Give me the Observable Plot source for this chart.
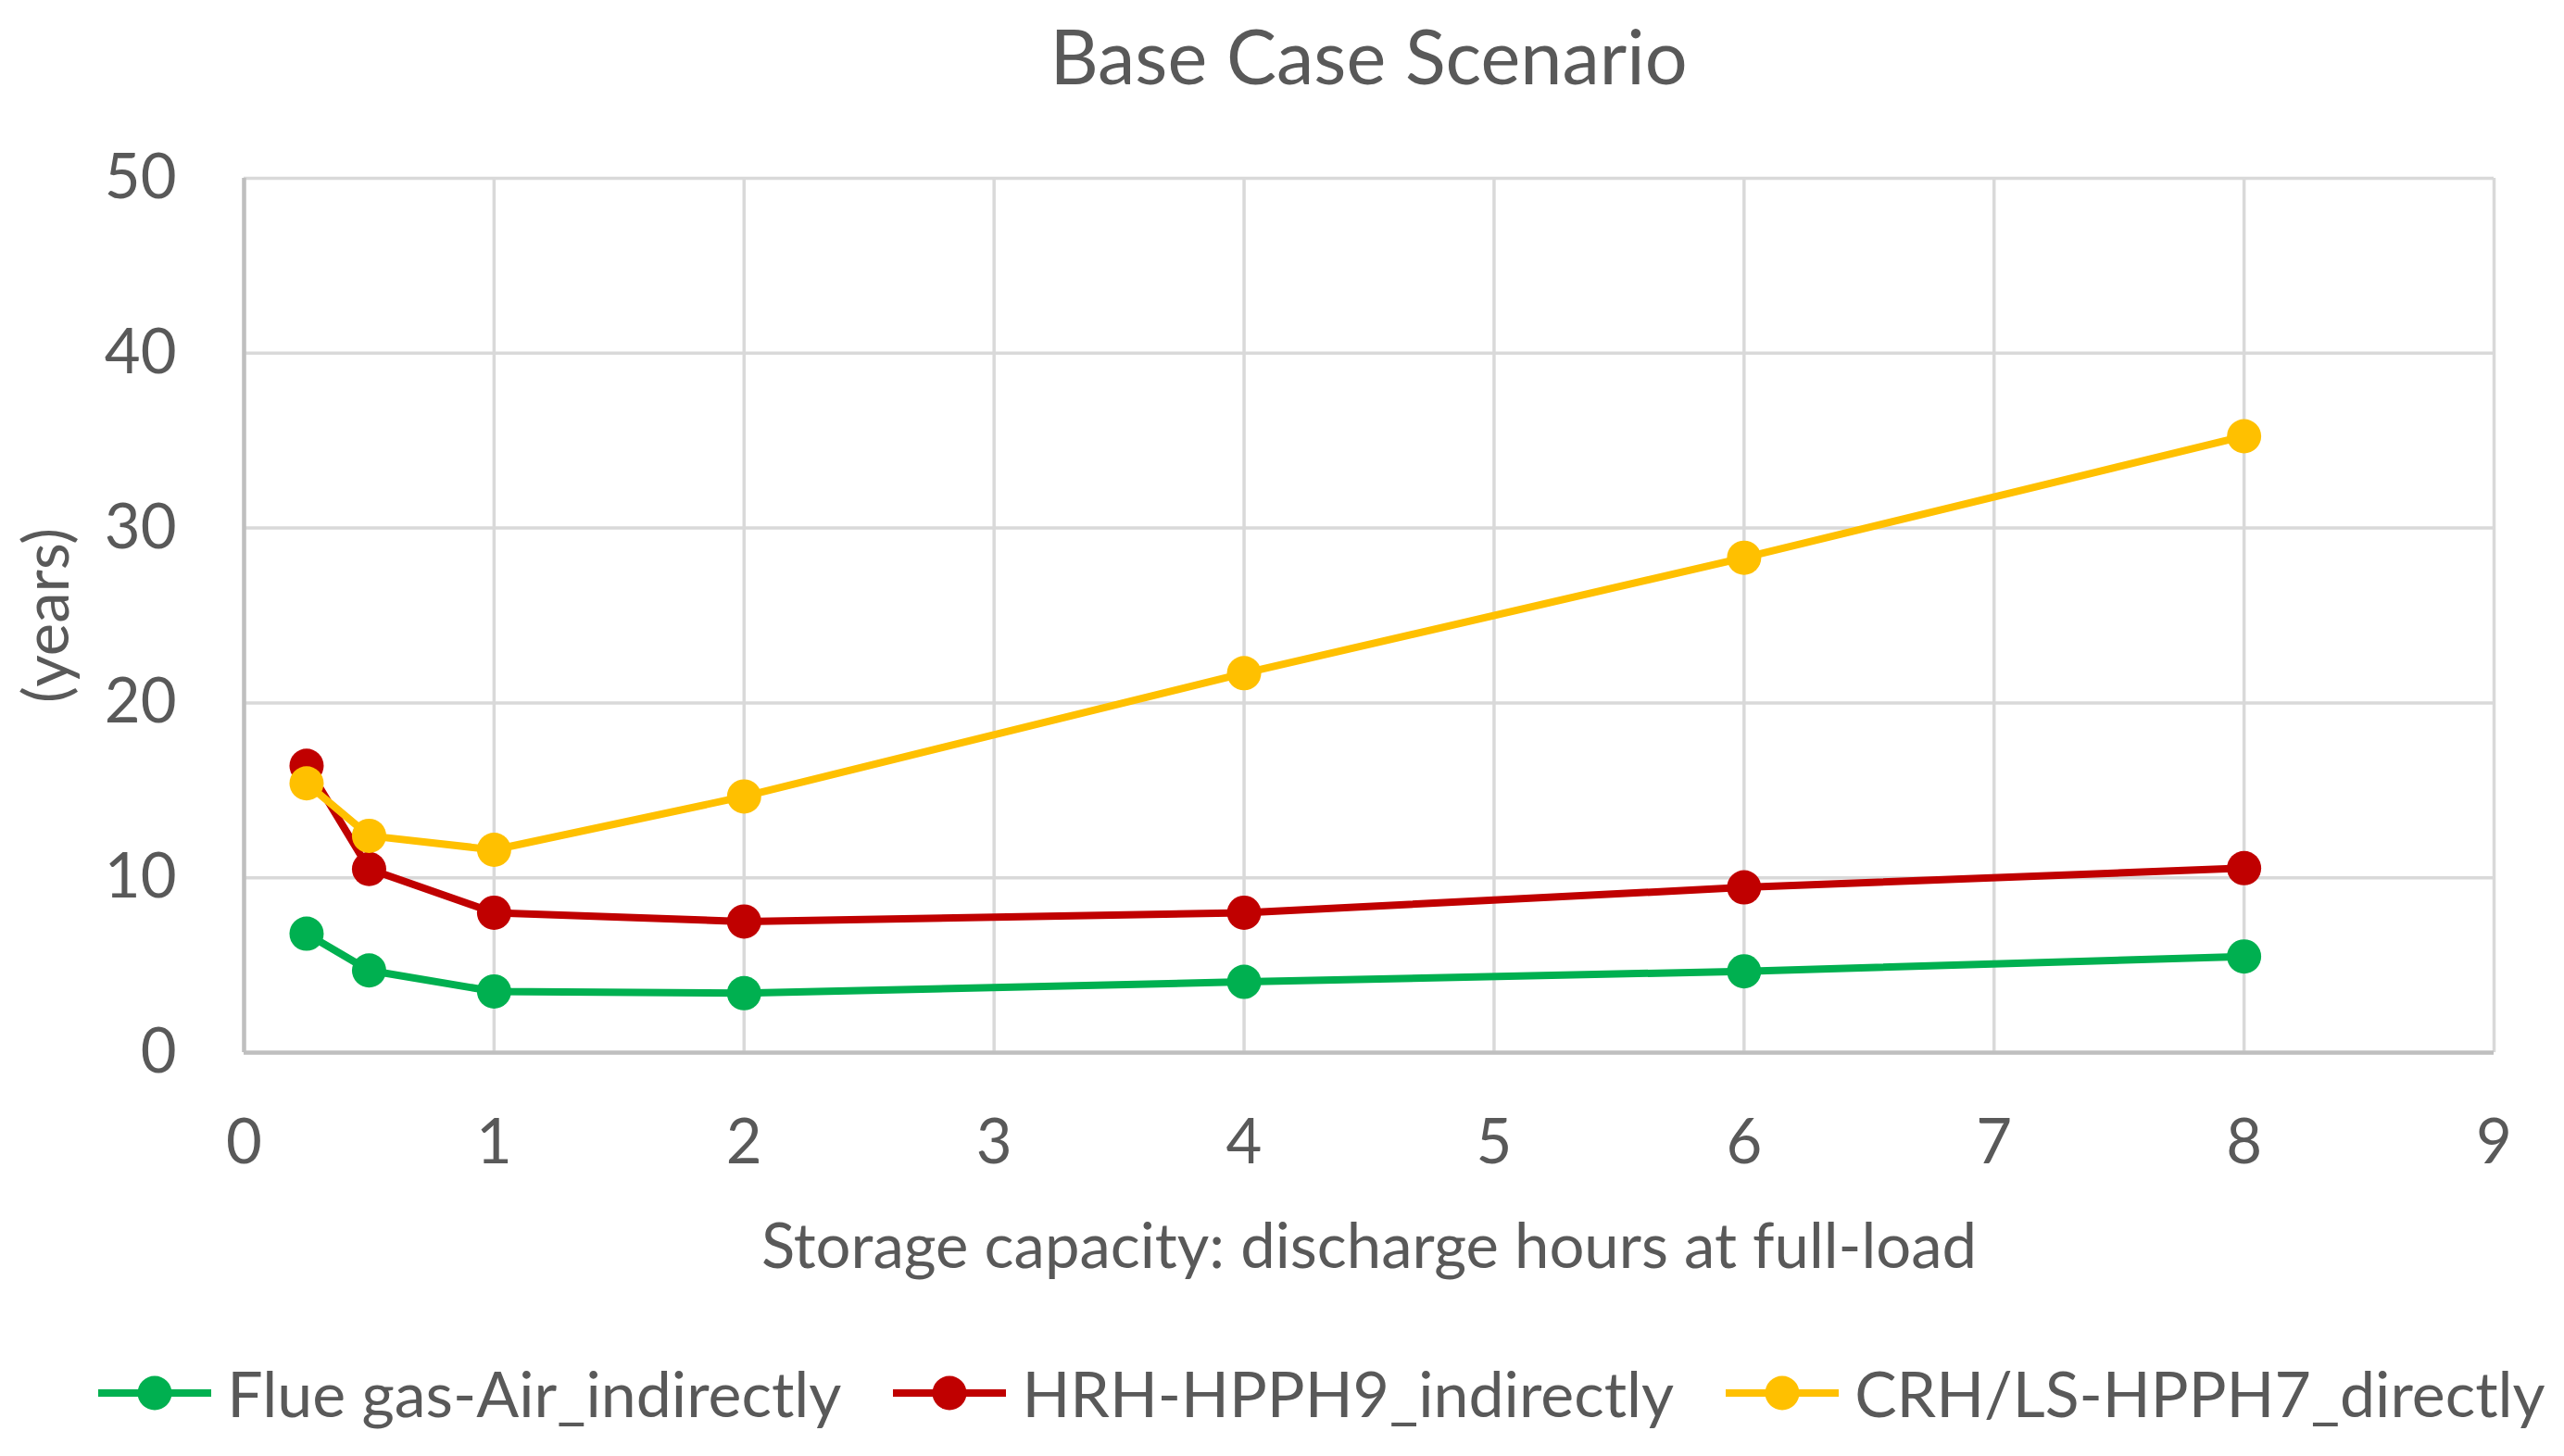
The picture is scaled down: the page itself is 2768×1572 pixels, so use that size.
<!DOCTYPE html>
<html>
<head>
<meta charset="utf-8">
<script src="https://cdn.jsdelivr.net/npm/d3@7"></script>
<script src="https://cdn.jsdelivr.net/npm/@observablehq/plot@0.6"></script>
<style>
html, body { margin: 0; padding: 0; background: #fff; overflow: hidden; }
body { width: 2768px; height: 1572px; font-family: Lato, "Noto Sans", sans-serif; color: #595959; }
#title { height: 150px; position: relative; }
#title span { position: absolute; left: 263px; width: 2429px; text-align: center; top: 20px; font-size: 81px; line-height: 80px; white-space: nowrap; }
#chart svg { display: block; }
#legend { box-sizing: border-box; width: 2768px; height: 152px; padding-top: 16px; padding-left: 86px; display: flex; align-items: center; justify-content: center; }
.item { display: flex; align-items: center; margin: 0 28px; flex-shrink: 0; white-space: nowrap; }
.item svg { display: block; margin-right: 17px; flex-shrink: 0; }
.item span { font-size: 68px; line-height: 68px; white-space: nowrap; }
</style>
</head>
<body>
<div id="title"><span>Base Case Scenario</span></div>
<div id="chart"></div>
<div id="legend"></div>
<script>
const hours = [0.25, 0.5, 1, 2, 4, 6, 8];
const flueGas = [6.8, 4.7, 3.5, 3.4, 4.05, 4.65, 5.5];
const hrh = [16.4, 10.5, 8.0, 7.5, 8.0, 9.45, 10.55];
const crh = [15.4, 12.4, 11.6, 14.65, 21.7, 28.3, 35.25];
const seriesNames = ["Flue gas-Air_indirectly", "HRH-HPPH9_indirectly", "CRH/LS-HPPH7_directly"];
const seriesColors = ["#00B050", "#C00000", "#FFC000"];
const xTicks = [0, 1, 2, 3, 4, 5, 6, 7, 8, 9];
const yTicks = [0, 10, 20, 30, 40, 50];
const xLabel = "Storage capacity: discharge hours at full-load";
const yLabel = "(years)";

const seriesValues = [flueGas, hrh, crh];
const rows = seriesNames.flatMap((name, i) => hours.map((h, j) => ({series: name, x: h, y: seriesValues[i][j]})));

const marks = [
  Plot.gridX(xTicks, {stroke: "#d9d9d9", strokeOpacity: 1, strokeWidth: 3.5}),
  Plot.gridY(yTicks, {stroke: "#d9d9d9", strokeOpacity: 1, strokeWidth: 3.5}),
  Plot.ruleX([0], {stroke: "#bfbfbf", strokeWidth: 4.5}),
  Plot.ruleY([0], {stroke: "#bfbfbf", strokeWidth: 4.5}),
  Plot.axisX(xTicks, {tickSize: 0, tickPadding: 72, fontSize: 67, tickFormat: d => String(d), label: xLabel, labelAnchor: "center", labelOffset: 232, labelArrow: "none"}),
  Plot.axisY(yTicks, {tickSize: 0, tickPadding: 73, fontSize: 67, tickFormat: d => String(d), label: yLabel, labelAnchor: "center", labelOffset: 237, labelArrow: "none"})
];
seriesNames.forEach((name, i) => {
  const d = rows.filter(r => r.series === name);
  marks.push(Plot.line(d, {x: "x", y: "y", stroke: seriesColors[i], strokeWidth: 8}));
  marks.push(Plot.dot(d, {x: "x", y: "y", fill: seriesColors[i], r: 18.5, stroke: "none"}));
});

const chart = Plot.plot({
  width: 2768,
  height: 1270,
  marginTop: 42,
  marginBottom: 284,
  marginLeft: 263,
  marginRight: 76,
  x: {domain: [0, 9]},
  y: {domain: [0, 50]},
  style: {fontFamily: 'Lato, "Noto Sans", sans-serif', color: "#595959", background: "#fff", overflow: "visible"},
  marks
});
document.getElementById("chart").appendChild(chart);

const legend = document.getElementById("legend");
seriesNames.forEach((name, i) => {
  const item = document.createElement("div");
  item.className = "item";
  const svg = d3.create("svg").attr("width", 122).attr("height", 40);
  svg.append("line").attr("x1", 0).attr("x2", 122).attr("y1", 20).attr("y2", 20)
    .attr("stroke", seriesColors[i]).attr("stroke-width", 8);
  svg.append("circle").attr("cx", 61).attr("cy", 20).attr("r", 18.5).attr("fill", seriesColors[i]);
  item.appendChild(svg.node());
  const span = document.createElement("span");
  span.textContent = name;
  item.appendChild(span);
  legend.appendChild(item);
});
</script>
</body>
</html>
